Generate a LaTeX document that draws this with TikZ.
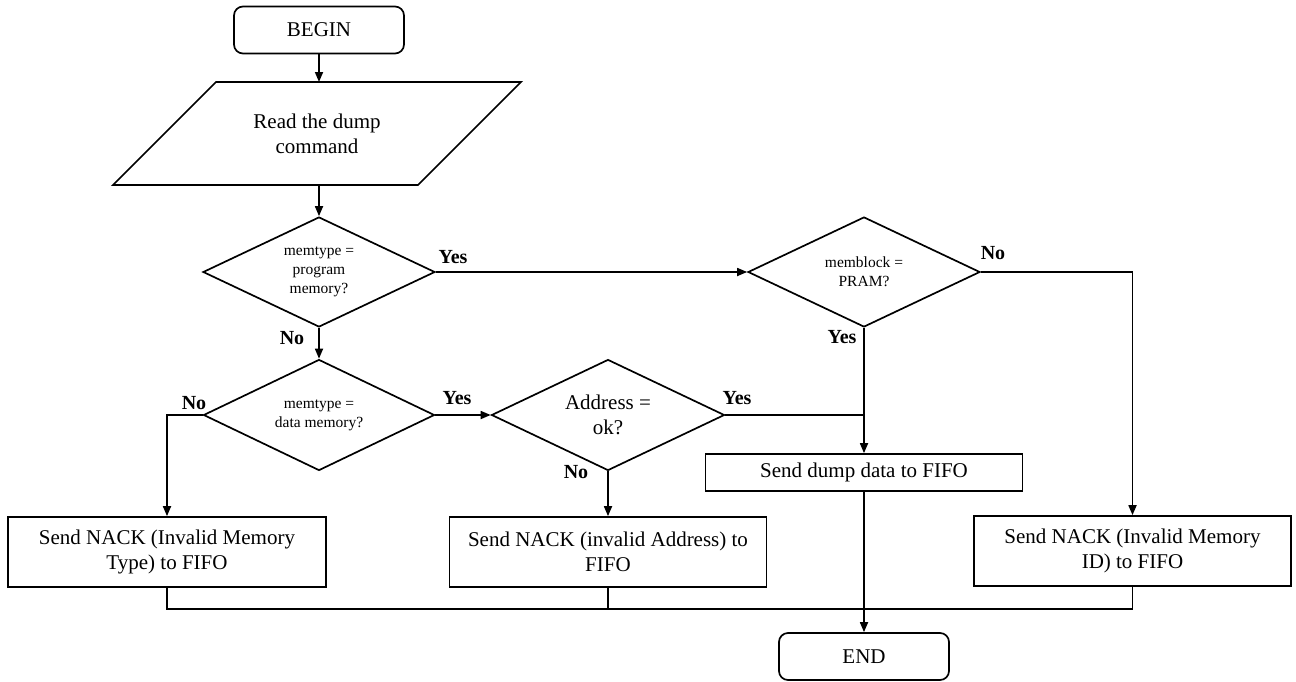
\documentclass[tikz,border=0pt]{standalone}
\usepackage{fontspec}
\setmainfont{Liberation Serif}
\usetikzlibrary{arrows.meta,shapes.geometric}

\begin{document}
\begin{tikzpicture}[x=1pt,y=-1pt, line width=1.7pt,
  flow/.style={-{Triangle[length=10pt,width=8pt]}},
  terminal/.style={draw, rounded corners=9pt, minimum width=170pt, minimum height=47pt, font=\fontsize{21}{25}\selectfont},
  proc/.style={draw, minimum width=317pt, minimum height=70pt, inner sep=0pt, align=center, font=\fontsize{21}{25}\selectfont},
  decide/.style={draw, diamond, aspect=2.1, inner sep=0pt, minimum width=232pt, minimum height=110pt, align=center},
  small/.style={font=\fontsize{15.5}{19}\selectfont},
  big/.style={font=\fontsize{21}{25}\selectfont},
  answer/.style={font=\bfseries\fontsize{20}{24}\selectfont}]
\useasboundingbox (0,0) rectangle (1296,681);
% terminals and input
\node[terminal] (begin) at (319,30) {BEGIN};
\node[align=center, big] (read) at (317,133.5) {Read the dump\\command};
\draw[line join=miter] (113,185) -- (418,185) -- (521,82) -- (216,82) -- cycle;
\coordinate (readtop) at (319,82);
\coordinate (readbot) at (319,185);
\node[terminal] (end) at (864,656.5) {END};
% decisions
\node[decide, small] (d1) at (319,272) {memtype =\\program\\memory?};
\node[decide, small] (d2) at (864,272) {memblock =\\PRAM?};
\node[decide, small, minimum width=231pt, minimum height=111pt] (d3) at (319,415) {memtype =\\data memory?};
\node[decide, big, minimum width=233pt, minimum height=111pt] (d4) at (608,415) {Address =\\ok?};
% processes
\node[proc, minimum height=37pt] (dump) at (864,472.5) {Send dump data to FIFO};
\node[proc, minimum width=318pt] (nacktype) at (167,552) {Send NACK (Invalid Memory\\Type) to FIFO};
\node[proc] (nackaddr) at (608,552) {Send NACK (invalid Address) to\\FIFO};
\node[proc] (nackid) at (1132.5,551) {Send NACK (Invalid Memory\\ID) to FIFO};
% branch labels
\node[answer] (yes1) at (453,257) {Yes};
\node[answer] (no1) at (292,338) {No};
\node[answer] (no2) at (993,253) {No};
\node[answer] (yes2) at (842,337) {Yes};
\node[answer] (no3) at (194,403) {No};
\node[answer] (yes3) at (457,398) {Yes};
\node[answer] (yes4) at (737,398) {Yes};
\node[answer] (no4) at (576,472) {No};
% connectors
\draw[flow] (begin.south) -- (readtop);
\draw[flow] (readbot) -- (d1.north);
\draw[flow] (d1.south) -- (d3.north);
\draw[flow] (d1.east) -- (d2.west);
\draw[flow] (d2.east) -| (nackid.north);
\draw[flow] (d2.south) -- (dump.north);
\draw (d4.east) -- (d4.east -| dump.north);
\draw[flow] (d3.west) -| (nacktype.north);
\draw[flow] (d3.east) -- (d4.west);
\draw[flow] (d4.south) -- (nackaddr.north);
\draw[flow] (dump.south) -- (end.north);
\coordinate (bus) at (864,609);
\draw (nacktype.south) |- (bus) -| (nackid.south);
\draw (nackaddr.south) -- (nackaddr.south |- bus);
\end{tikzpicture}
\end{document}
